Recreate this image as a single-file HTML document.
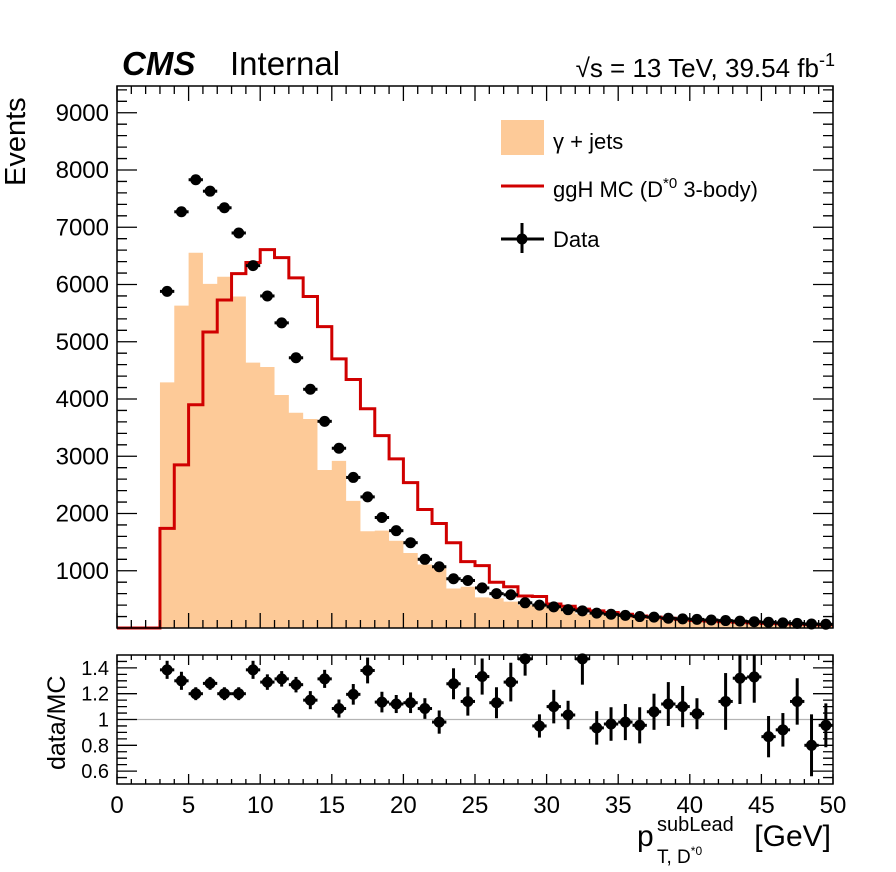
<!DOCTYPE html>
<html><head><meta charset="utf-8"><style>
body{margin:0;background:#fff;}
svg{display:block;font-family:"Liberation Sans",sans-serif;}
</style></head><body>
<svg id="c" width="896" height="872" viewBox="0 0 896 872"></svg>
<script>
const binEdges=[0,1,2,3,4,5,6,7,8,9,10,11,12,13,14,15,16,17,18,19,20,21,22,23,24,25,26,27,28,29,30,31,32,33,34,35,36,37,38,39,40,41,42,43,44,45,46,47,48,49,50];
const gjets=[0,0,0,4290,5630,6555,6010,6135,5790,4635,4560,4070,3760,3650,2760,2920,2220,1690,1700,1525,1310,1110,1055,690,720,535,520,460,400,420,360,360,250,260,250,220,200,180,150,140,120,120,100,80,80,100,90,70,90,70];
const ggh=[0,0,0,1740,2850,3900,5170,5730,6190,6385,6610,6470,6115,5790,5265,4700,4340,3830,3360,2955,2540,2070,1825,1490,1160,1090,800,720,560,550,420,380,330,300,270,240,210,190,170,150,130,120,110,100,90,80,75,70,60,55];
const dataX=[3.5,4.5,5.5,6.5,7.5,8.5,9.5,10.5,11.5,12.5,13.5,14.5,15.5,16.5,17.5,18.5,19.5,20.5,21.5,22.5,23.5,24.5,25.5,26.5,27.5,28.5,29.5,30.5,31.5,32.5,33.5,34.5,35.5,36.5,37.5,38.5,39.5,40.5,41.5,42.5,43.5,44.5,45.5,46.5,47.5,48.5,49.5];
const dataY=[5880,7270,7830,7630,7340,6900,6330,5800,5330,4720,4170,3610,3140,2630,2290,1930,1700,1490,1200,1070,860,830,700,600,580,440,400,370,320,300,260,240,220,200,190,170,160,150,140,130,120,110,100,90,80,70,65];
const ratioX=[3.5,4.5,5.5,6.5,7.5,8.5,9.5,10.5,11.5,12.5,13.5,14.5,15.5,16.5,17.5,18.5,19.5,20.5,21.5,22.5,23.5,24.5,25.5,26.5,27.5,28.5,29.5,30.5,31.5,32.5,33.5,34.5,35.5,36.5,37.5,38.5,39.5,40.5,42.5,43.5,44.5,45.5,46.5,47.5,48.5,49.5];
const ratioY=[1.385,1.30,1.20,1.28,1.20,1.20,1.385,1.29,1.315,1.27,1.15,1.315,1.085,1.195,1.38,1.135,1.12,1.13,1.085,0.98,1.277,1.14,1.333,1.13,1.29,1.47,0.95,1.10,1.035,1.47,0.935,0.965,0.98,0.955,1.06,1.12,1.10,1.045,1.14,1.32,1.33,0.867,0.92,1.14,0.80,0.955];
const ratioErr=[0.07,0.07,0.05,0.05,0.05,0.05,0.07,0.06,0.06,0.06,0.07,0.07,0.07,0.08,0.1,0.08,0.07,0.08,0.08,0.09,0.12,0.11,0.14,0.12,0.15,0.13,0.09,0.13,0.11,0.2,0.13,0.13,0.14,0.14,0.14,0.17,0.16,0.12,0.22,0.2,0.2,0.16,0.13,0.18,0.24,0.17];
const yTicks=[1000,2000,3000,4000,5000,6000,7000,8000,9000];
const rTicks=[0.6,0.8,1,1.2,1.4];
const xTicks=[0,5,10,15,20,25,30,35,40,45,50];

const NS="http://www.w3.org/2000/svg",svg=document.getElementById('c');
const L=117,R=833,T=86,B=628,RT=655,RB=784;
const X=v=>L+(R-L)*v/50;
const Y=v=>B-v*0.05725;
const RY=v=>RB-(RB-RT)*(v-0.5)/1.0;
function el(tag,a,txt){const e=document.createElementNS(NS,tag);for(const k in a)e.setAttribute(k,a[k]);if(txt!==undefined)e.textContent=txt;svg.appendChild(e);return e;}

let d=`M${X(0)},${B}`;
for(let i=0;i<gjets.length;i++){d+=`L${X(binEdges[i])},${Y(gjets[i])}L${X(binEdges[i+1])},${Y(gjets[i])}`;}
d+=`L${X(50)},${B}Z`;
let e=el('path',{d:d,fill:'#fdca98',stroke:'none'});


d=`M${X(0)},${Y(ggh[0])}`;
for(let i=0;i<ggh.length;i++){d+=`L${X(binEdges[i])},${Y(ggh[i])}L${X(binEdges[i+1])},${Y(ggh[i])}`;}
e=el('path',{d:d,fill:'none',stroke:'#d00000','stroke-width':3});


for(let i=0;i<dataX.length;i++){
  const cx=X(dataX[i]),cy=Y(dataY[i]),er=Math.sqrt(dataY[i])*0.05725;
  const g=document.createElementNS(NS,'g');svg.appendChild(g);
  
  
  g.innerHTML=`<line x1="${X(dataX[i]-0.5)}" x2="${X(dataX[i]+0.5)}" y1="${cy}" y2="${cy}" stroke="#000" stroke-width="3"/><line x1="${cx}" x2="${cx}" y1="${cy-er}" y2="${cy+er}" stroke="#000" stroke-width="3"/><circle cx="${cx}" cy="${cy}" r="5.5" fill="#000"/>`;
}
e=el('line',{x1:L,x2:R,y1:RY(1),y2:RY(1),stroke:'#b4b4b4','stroke-width':1.2});


for(let i=0;i<ratioX.length;i++){
  const cx=X(ratioX[i]),cy=RY(ratioY[i]);
  const y1=Math.max(RT,RY(ratioY[i]+ratioErr[i])),y2=Math.min(RB,RY(ratioY[i]-ratioErr[i]));
  const g=document.createElementNS(NS,'g');svg.appendChild(g);
  
  
  g.innerHTML=`<line x1="${X(ratioX[i]-0.5)}" x2="${X(ratioX[i]+0.5)}" y1="${cy}" y2="${cy}" stroke="#000" stroke-width="3"/><line x1="${cx}" x2="${cx}" y1="${y1}" y2="${y2}" stroke="#000" stroke-width="3"/><circle cx="${cx}" cy="${cy}" r="5.5" fill="#000"/>`;
}
e=el('rect',{x:L,y:T,width:R-L,height:B-T,fill:'none',stroke:'#000','stroke-width':1.5});


e=el('rect',{x:L,y:RT,width:R-L,height:RB-RT,fill:'none',stroke:'#000','stroke-width':1.5});


let tk='';
for(let v=0;v<=50;v++){const x=X(v),len=v%5===0?15:8;
  tk+=`M${x},${B}v${-len}M${x},${T}v${len}M${x},${RB}v${-(v%5===0?10:5)}M${x},${RT}v${(v%5===0?10:5)}`;}
for(let v=200;v<=9400;v+=200){const y=Y(v),len=v%1000===0?20:10;tk+=`M${L},${y}h${len}M${R},${y}h${-len}`;}
for(let v=0.55;v<1.5;v+=0.05){const y=RY(v),maj=Math.abs(v*10-Math.round(v*10))<0.01&&Math.round(v*10)%2===0,len=maj?20:10;tk+=`M${L},${y}h${len}M${R},${y}h${-len}`;}
e=el('path',{d:tk,stroke:'#000','stroke-width':1.3,fill:'none'});


for(const v of yTicks){e=el('text',{x:109,y:Y(v)+8,'text-anchor':'end','font-size':24},String(v));
  
  }
for(const v of rTicks){e=el('text',{x:109,y:RY(v)+7,'text-anchor':'end','font-size':20},String(v));
  
  }
for(const v of xTicks){e=el('text',{x:X(v),y:813,'text-anchor':'middle','font-size':24},String(v));
  
  }
</script>
<svg width="896" height="872" style="position:absolute;left:0;top:0;font-family:'Liberation Sans',sans-serif">
<text x="122" y="75" font-size="33" font-weight="bold" font-style="italic">CMS</text>
<text x="230" y="75" font-size="33">Internal</text>
<text x="835" y="77" font-size="26" text-anchor="end"><tspan>√s = 13 TeV, 39.54 fb</tspan><tspan dy="-11" font-size="18">-1</tspan></text>
<text transform="translate(25,186) rotate(-90)" font-size="29">Events</text>
<text transform="translate(65,770) rotate(-90)" font-size="25">data/MC</text>
<text x="831" y="846" font-size="30" text-anchor="end">[GeV]</text>
<text x="637" y="846" font-size="30">p</text>
<text x="657" y="831" font-size="20">subLead</text>
<text x="657" y="863" font-size="19">T, D<tspan dy="-8" font-size="12">*0</tspan></text>
<rect x="501" y="120" width="43" height="35" fill="#fdca98"/>
<text x="553" y="149" font-size="22">γ + jets</text>
<line x1="501" x2="544" y1="186" y2="186" stroke="#d00000" stroke-width="3"/>
<text x="553" y="197" font-size="22">ggH MC (D<tspan dy="-9" font-size="15">*0</tspan><tspan dy="9"> 3-body)</tspan></text>
<g><line x1="501" x2="544" y1="239" y2="239" stroke="#000" stroke-width="3"/><line x1="522" x2="522" y1="223" y2="253" stroke="#000" stroke-width="3"/><circle cx="522" cy="239" r="5.5"/></g>
<text x="553" y="247" font-size="22">Data</text>
</svg>
</body></html>
